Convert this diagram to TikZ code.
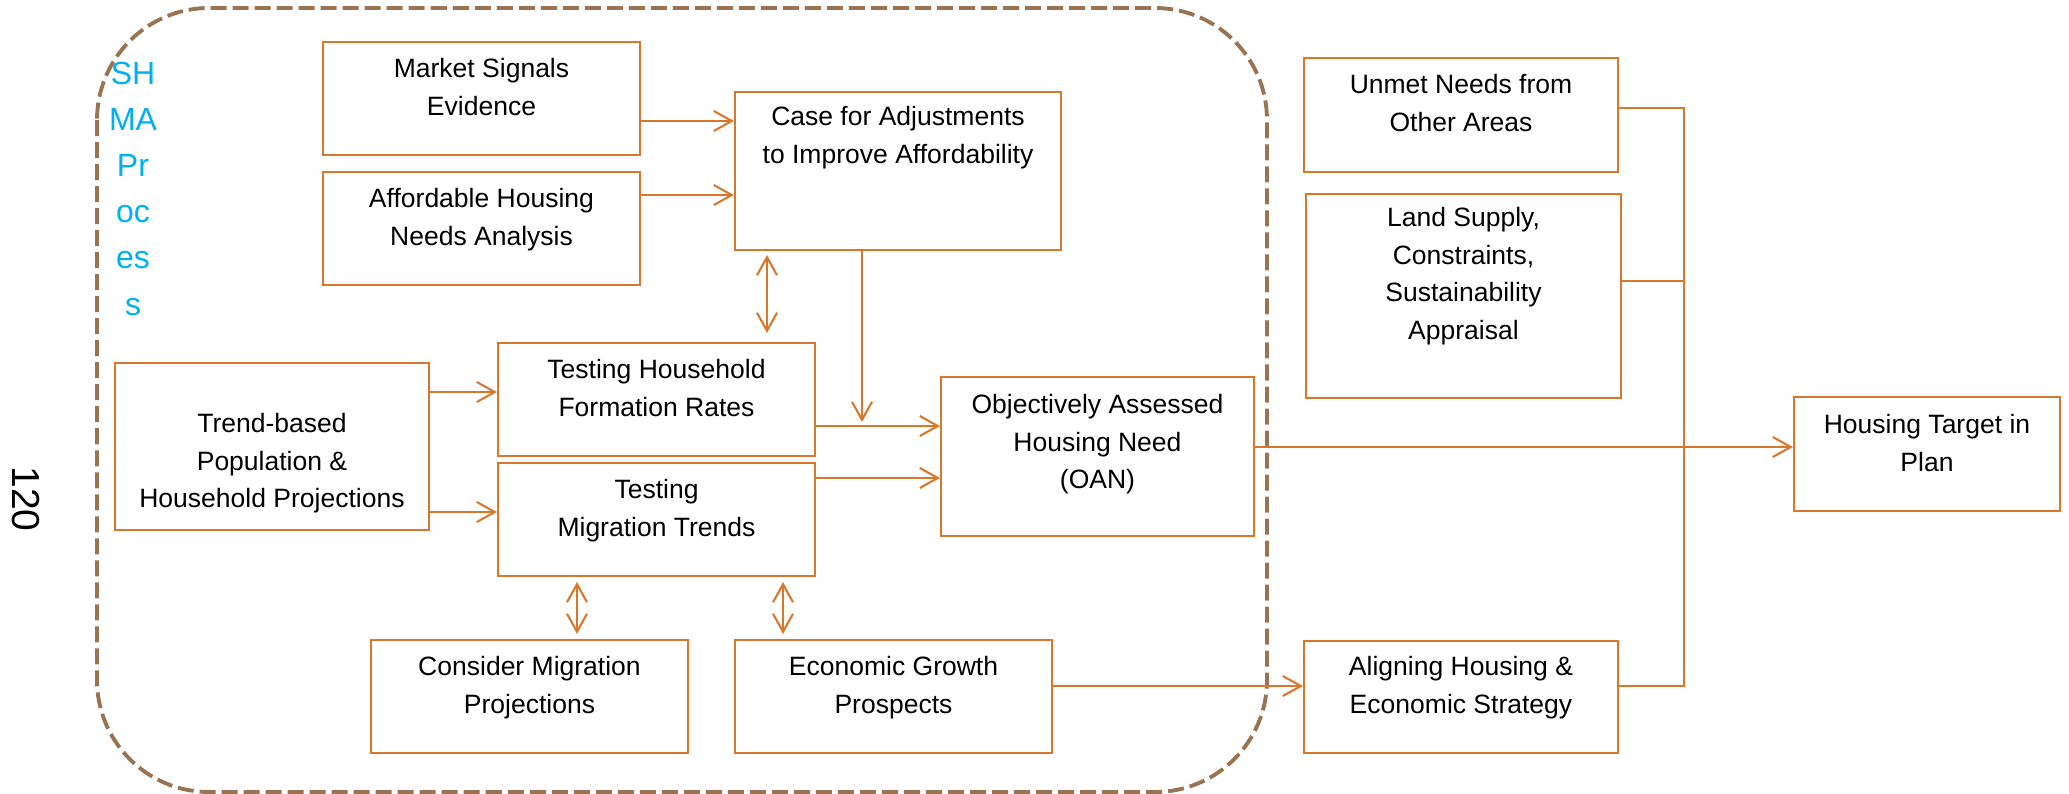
\documentclass[tikz,border=0pt]{standalone}
\usepackage{fontspec}
\setmainfont{Liberation Sans}
\usetikzlibrary{arrows.meta,calc}
\definecolor{boxorange}{HTML}{D9782D}
\definecolor{dashbrown}{HTML}{9A7452}
\definecolor{shmacyan}{HTML}{00B0F0}
\newcommand\bx[7]{%
  \node[box, minimum width={(#4-#2)*0.01cm}, minimum height={(#5-#3)*0.01cm}] (#1) at ({(#2+#4)/2},{(#3+#5)/2}) {};
  \node[lbl] (#1t) at ({(#2+#4)/2},#3) {\rule{0pt}{0.#6cm}#7};}
\begin{document}
\begin{tikzpicture}[x=0.01cm,y=-0.01cm,
  box/.style={draw=boxorange, line width=0.6pt, inner sep=0pt},
  lbl/.style={align=center, inner sep=0pt, anchor=north, font=\fontsize{7.54}{10.67}\selectfont},
  tipb/.tip={Straight Barb[length=0.18cm,width=0.2cm]},
  arr/.style={draw=boxorange, line width=0.6pt, -tipb},
  arrr/.style={draw=boxorange, line width=0.6pt, tipb-tipb},
  ln/.style={draw=boxorange, line width=0.6pt}]
\useasboundingbox (0,0) rectangle (2069,794);

% dashed SHMA process frame
\draw[dashbrown, line width=1.1pt, dash pattern=on 0.16cm off 0.06cm, rounded corners=1.12cm] (97,8) rectangle (1267,792);
\node[font=\fontsize{9.1}{13.1}\selectfont, text=shmacyan, align=center, anchor=base, inner sep=0pt] (shma) at (133,315) {SH\\MA\\Pr\\oc\\es\\s};
\node[rotate=-90, font=\fontsize{11.1}{13}\selectfont, inner sep=0pt] (pg) at (26,499) {120};

% boxes
\bx{ms}{323}{42}{640}{155}{35}{Market Signals\\Evidence}
\bx{ah}{323}{172}{640}{285}{35}{Affordable Housing\\Needs Analysis}
\bx{ca}{735}{92}{1061}{250}{33}{Case for Adjustments\\to Improve Affordability}
\bx{th}{498}{343}{815}{456}{35}{Testing Household\\Formation Rates}
\bx{tm}{498}{463}{815}{576}{35}{Testing\\Migration Trends}
\bx{tb}{115}{363}{429}{530}{69}{Trend-based\\Population \&\\Household Projections}
\bx{oan}{941}{377}{1254}{536}{36}{Objectively Assessed\\Housing Need\\(OAN)}
\bx{cm}{371}{640}{688}{753}{35}{Consider Migration\\Projections}
\bx{eg}{735}{640}{1052}{753}{35}{Economic Growth\\Prospects}
\bx{un}{1304}{58}{1618}{172}{35}{Unmet Needs from\\Other Areas}
\bx{ls}{1306}{194}{1621}{398}{32}{Land Supply,\\Constraints,\\Sustainability\\Appraisal}
\bx{al}{1304}{641}{1618}{753}{34}{Aligning Housing \&\\Economic Strategy}
\bx{ht}{1794}{397}{2060}{511}{36}{Housing Target in\\Plan}

% helper coordinates
\coordinate (yms) at (0,121);
\coordinate (yah) at (0,195);
\coordinate (yth) at (0,426);
\coordinate (ytm) at (0,478);
\coordinate (ytb1) at (0,392);
\coordinate (ytb2) at (0,512);
\coordinate (yeg) at (0,686);
\coordinate (yoan) at (0,447);
\coordinate (yun) at (0,108);
\coordinate (yls) at (0,281);
\coordinate (xca) at (767,0);
\coordinate (xdn) at (862,0);
\coordinate (xcm) at (577,0);
\coordinate (xeg) at (783,0);
\coordinate (xtr) at (1684,0);

% connectors
\draw[arr] (ms.east |- yms) -- (ca.west |- yms);
\draw[arr] (ah.east |- yah) -- (ca.west |- yah);
\draw[arrr, shorten <=0.04cm, shorten >=0.09cm] (ca.south -| xca) -- (th.north -| xca);
\draw[arr, shorten >=0.04cm] (ca.south -| xdn) -- (xdn |- yth);
\draw[arr] (th.east |- yth) -- (oan.west |- yth);
\draw[arr] (tm.east |- ytm) -- (oan.west |- ytm);
\draw[arr] (tb.east |- ytb1) -- (th.west |- ytb1);
\draw[arr] (tb.east |- ytb2) -- (tm.west |- ytb2);
\draw[arrr, shorten <=0.05cm, shorten >=0.05cm] (tm.south -| xcm) -- (cm.north -| xcm);
\draw[arrr, shorten <=0.05cm, shorten >=0.05cm] (tm.south -| xeg) -- (eg.north -| xeg);
\draw[arr] (eg.east |- yeg) -- (al.west |- yeg);
\draw[arr] (oan.east |- yoan) -- (ht.west |- yoan);
\draw[ln] (un.east |- yun) -- (xtr |- yun) -- (xtr |- yeg) -- (al.east |- yeg);
\draw[ln] (ls.east |- yls) -- (xtr |- yls);
\end{tikzpicture}
\end{document}
